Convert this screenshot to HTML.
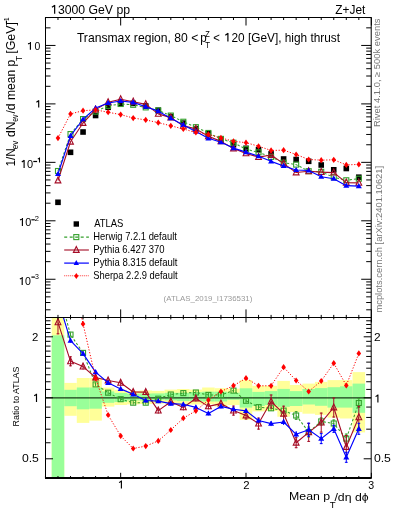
<!DOCTYPE html>
<html><head><meta charset="utf-8"><style>
html,body{margin:0;padding:0;background:#fff;width:393px;height:512px;overflow:hidden;position:relative;font-family:"Liberation Sans",sans-serif;}
svg text{font-family:"Liberation Sans",sans-serif;}
svg{will-change:transform;}
</style></head><body>
<svg width="393" height="512" viewBox="0 0 393 512" style="position:absolute;left:0;top:0">
<defs><clipPath id="cm"><rect x="45.5" y="17.5" width="325.7" height="300"/></clipPath><clipPath id="cr"><rect x="45.5" y="317.4" width="325.7" height="160.5"/></clipPath></defs>
<rect width="393" height="512" fill="#fff"/>
<g clip-path="url(#cr)">
<rect x="51.72" y="300" width="12.53" height="190" fill="#ffff99"/>
<rect x="64.25" y="382.9" width="12.53" height="32.9" fill="#ffff99"/>
<rect x="76.79" y="378" width="12.53" height="44.9" fill="#ffff99"/>
<rect x="89.32" y="378" width="12.54" height="42.6" fill="#ffff99"/>
<rect x="101.86" y="387.6" width="12.54" height="19" fill="#ffff99"/>
<rect x="114.39" y="389.8" width="12.53" height="15.2" fill="#ffff99"/>
<rect x="126.93" y="391" width="12.54" height="13.4" fill="#ffff99"/>
<rect x="139.46" y="390.5" width="12.54" height="13.5" fill="#ffff99"/>
<rect x="152" y="390.9" width="12.53" height="12.7" fill="#ffff99"/>
<rect x="164.53" y="389.6" width="12.54" height="14" fill="#ffff99"/>
<rect x="177.07" y="389" width="12.53" height="16.5" fill="#ffff99"/>
<rect x="189.6" y="389.6" width="12.54" height="14.9" fill="#ffff99"/>
<rect x="202.14" y="387.5" width="12.54" height="16.8" fill="#ffff99"/>
<rect x="214.67" y="388.2" width="12.54" height="18.2" fill="#ffff99"/>
<rect x="227.21" y="388.7" width="12.53" height="16.3" fill="#ffff99"/>
<rect x="239.74" y="380.1" width="12.54" height="39.7" fill="#ffff99"/>
<rect x="252.28" y="385.8" width="12.53" height="25.6" fill="#ffff99"/>
<rect x="264.81" y="385.8" width="12.53" height="25.2" fill="#ffff99"/>
<rect x="277.35" y="380.9" width="12.53" height="35.8" fill="#ffff99"/>
<rect x="289.88" y="385" width="12.53" height="27.1" fill="#ffff99"/>
<rect x="302.42" y="383.6" width="12.53" height="30.1" fill="#ffff99"/>
<rect x="314.95" y="381.9" width="12.53" height="33" fill="#ffff99"/>
<rect x="327.49" y="380.1" width="12.53" height="37.5" fill="#ffff99"/>
<rect x="340.02" y="380.1" width="12.53" height="38.4" fill="#ffff99"/>
<rect x="352.56" y="372.1" width="12.53" height="60.3" fill="#ffff99"/>
<rect x="51.72" y="335.3" width="12.53" height="154.7" fill="#99ff99"/>
<rect x="64.25" y="389.8" width="12.53" height="16.4" fill="#99ff99"/>
<rect x="76.79" y="387.5" width="12.53" height="21.8" fill="#99ff99"/>
<rect x="89.32" y="387.5" width="12.54" height="21.2" fill="#99ff99"/>
<rect x="101.86" y="391.4" width="12.54" height="11.4" fill="#99ff99"/>
<rect x="114.39" y="392.9" width="12.53" height="9.1" fill="#99ff99"/>
<rect x="126.93" y="393.7" width="12.54" height="6.8" fill="#99ff99"/>
<rect x="139.46" y="393.5" width="12.54" height="7" fill="#99ff99"/>
<rect x="152" y="393.4" width="12.53" height="6.4" fill="#99ff99"/>
<rect x="164.53" y="392.8" width="12.54" height="7.6" fill="#99ff99"/>
<rect x="177.07" y="392.8" width="12.53" height="8.3" fill="#99ff99"/>
<rect x="189.6" y="392.2" width="12.54" height="8.8" fill="#99ff99"/>
<rect x="202.14" y="391.7" width="12.54" height="9.8" fill="#99ff99"/>
<rect x="214.67" y="391.7" width="12.54" height="9.8" fill="#99ff99"/>
<rect x="227.21" y="392.7" width="12.53" height="7.1" fill="#99ff99"/>
<rect x="239.74" y="388.3" width="12.54" height="19.3" fill="#99ff99"/>
<rect x="252.28" y="391.9" width="12.53" height="14.1" fill="#99ff99"/>
<rect x="264.81" y="391.1" width="12.53" height="13.9" fill="#99ff99"/>
<rect x="277.35" y="388.9" width="12.53" height="17.9" fill="#99ff99"/>
<rect x="289.88" y="391.1" width="12.53" height="14.9" fill="#99ff99"/>
<rect x="302.42" y="389" width="12.53" height="15.5" fill="#99ff99"/>
<rect x="314.95" y="388.1" width="12.53" height="17.7" fill="#99ff99"/>
<rect x="327.49" y="387.2" width="12.53" height="20.4" fill="#99ff99"/>
<rect x="340.02" y="386.3" width="12.53" height="21.3" fill="#99ff99"/>
<rect x="352.56" y="383.6" width="12.53" height="29.2" fill="#99ff99"/>
<line x1="45.5" y1="397.8" x2="371.2" y2="397.8" stroke="#1a3a1a" stroke-width="1.3"/>
<polyline points="57.98,289.31 70.52,334.6 83.05,352.9 95.59,384.4 108.12,392.7 120.66,399.2 133.19,402.7 145.73,402.7 158.26,398.7 170.8,394.5 183.33,393.1 195.87,392.5 208.4,394.9 220.94,395 233.47,390.6 246.01,400.8 258.55,407.1 271.08,408.3 283.62,410.6 296.15,415.5 308.69,432 321.22,421.4 333.75,423.5 346.29,438.6 358.82,403" fill="none" stroke="#34a02c" stroke-width="1.05" stroke-dasharray="2.4,2.0" stroke-linecap="butt" stroke-linejoin="round"/>
<line x1="57.98" y1="287.31" x2="57.98" y2="291.31" stroke="#34a02c" stroke-width="1"/>
<rect x="55.48" y="286.81" width="5" height="5" fill="none" stroke="#34a02c" stroke-width="1.1"/>
<line x1="70.52" y1="332.6" x2="70.52" y2="336.6" stroke="#34a02c" stroke-width="1"/>
<rect x="68.02" y="332.1" width="5" height="5" fill="none" stroke="#34a02c" stroke-width="1.1"/>
<line x1="83.05" y1="350.9" x2="83.05" y2="354.9" stroke="#34a02c" stroke-width="1"/>
<rect x="80.55" y="350.4" width="5" height="5" fill="none" stroke="#34a02c" stroke-width="1.1"/>
<line x1="95.59" y1="382.4" x2="95.59" y2="386.4" stroke="#34a02c" stroke-width="1"/>
<rect x="93.09" y="381.9" width="5" height="5" fill="none" stroke="#34a02c" stroke-width="1.1"/>
<line x1="108.12" y1="390.7" x2="108.12" y2="394.7" stroke="#34a02c" stroke-width="1"/>
<rect x="105.62" y="390.2" width="5" height="5" fill="none" stroke="#34a02c" stroke-width="1.1"/>
<line x1="120.66" y1="397.2" x2="120.66" y2="401.2" stroke="#34a02c" stroke-width="1"/>
<rect x="118.16" y="396.7" width="5" height="5" fill="none" stroke="#34a02c" stroke-width="1.1"/>
<line x1="133.19" y1="400.7" x2="133.19" y2="404.7" stroke="#34a02c" stroke-width="1"/>
<rect x="130.69" y="400.2" width="5" height="5" fill="none" stroke="#34a02c" stroke-width="1.1"/>
<line x1="145.73" y1="400.7" x2="145.73" y2="404.7" stroke="#34a02c" stroke-width="1"/>
<rect x="143.23" y="400.2" width="5" height="5" fill="none" stroke="#34a02c" stroke-width="1.1"/>
<line x1="158.26" y1="396.7" x2="158.26" y2="400.7" stroke="#34a02c" stroke-width="1"/>
<rect x="155.76" y="396.2" width="5" height="5" fill="none" stroke="#34a02c" stroke-width="1.1"/>
<line x1="170.8" y1="392.5" x2="170.8" y2="396.5" stroke="#34a02c" stroke-width="1"/>
<rect x="168.3" y="392" width="5" height="5" fill="none" stroke="#34a02c" stroke-width="1.1"/>
<line x1="183.33" y1="391.1" x2="183.33" y2="395.1" stroke="#34a02c" stroke-width="1"/>
<rect x="180.83" y="390.6" width="5" height="5" fill="none" stroke="#34a02c" stroke-width="1.1"/>
<line x1="195.87" y1="390.5" x2="195.87" y2="394.5" stroke="#34a02c" stroke-width="1"/>
<rect x="193.37" y="390" width="5" height="5" fill="none" stroke="#34a02c" stroke-width="1.1"/>
<line x1="208.4" y1="392.9" x2="208.4" y2="396.9" stroke="#34a02c" stroke-width="1"/>
<rect x="205.9" y="392.4" width="5" height="5" fill="none" stroke="#34a02c" stroke-width="1.1"/>
<line x1="220.94" y1="393" x2="220.94" y2="397" stroke="#34a02c" stroke-width="1"/>
<rect x="218.44" y="392.5" width="5" height="5" fill="none" stroke="#34a02c" stroke-width="1.1"/>
<line x1="233.47" y1="388.6" x2="233.47" y2="392.6" stroke="#34a02c" stroke-width="1"/>
<rect x="230.97" y="388.1" width="5" height="5" fill="none" stroke="#34a02c" stroke-width="1.1"/>
<line x1="246.01" y1="398.8" x2="246.01" y2="402.8" stroke="#34a02c" stroke-width="1"/>
<rect x="243.51" y="398.3" width="5" height="5" fill="none" stroke="#34a02c" stroke-width="1.1"/>
<line x1="258.55" y1="404.6" x2="258.55" y2="409.6" stroke="#34a02c" stroke-width="1"/>
<rect x="256.05" y="404.6" width="5" height="5" fill="none" stroke="#34a02c" stroke-width="1.1"/>
<line x1="271.08" y1="405.8" x2="271.08" y2="410.8" stroke="#34a02c" stroke-width="1"/>
<rect x="268.58" y="405.8" width="5" height="5" fill="none" stroke="#34a02c" stroke-width="1.1"/>
<line x1="283.62" y1="407.6" x2="283.62" y2="413.6" stroke="#34a02c" stroke-width="1"/>
<rect x="281.12" y="408.1" width="5" height="5" fill="none" stroke="#34a02c" stroke-width="1.1"/>
<line x1="296.15" y1="411.2" x2="296.15" y2="419.8" stroke="#34a02c" stroke-width="1"/>
<line x1="294.75" y1="411.7" x2="297.55" y2="411.7" stroke="#34a02c" stroke-width="1"/>
<line x1="294.75" y1="419.3" x2="297.55" y2="419.3" stroke="#34a02c" stroke-width="1"/>
<rect x="293.65" y="413" width="5" height="5" fill="none" stroke="#34a02c" stroke-width="1.1"/>
<line x1="308.69" y1="426.5" x2="308.69" y2="437.5" stroke="#34a02c" stroke-width="1"/>
<line x1="307.29" y1="427" x2="310.08" y2="427" stroke="#34a02c" stroke-width="1"/>
<line x1="307.29" y1="437" x2="310.08" y2="437" stroke="#34a02c" stroke-width="1"/>
<rect x="306.19" y="429.5" width="5" height="5" fill="none" stroke="#34a02c" stroke-width="1.1"/>
<line x1="321.22" y1="417.4" x2="321.22" y2="425.4" stroke="#34a02c" stroke-width="1"/>
<line x1="319.82" y1="417.9" x2="322.62" y2="417.9" stroke="#34a02c" stroke-width="1"/>
<line x1="319.82" y1="424.9" x2="322.62" y2="424.9" stroke="#34a02c" stroke-width="1"/>
<rect x="318.72" y="418.9" width="5" height="5" fill="none" stroke="#34a02c" stroke-width="1.1"/>
<line x1="333.75" y1="419.5" x2="333.75" y2="427.5" stroke="#34a02c" stroke-width="1"/>
<line x1="332.36" y1="420" x2="335.15" y2="420" stroke="#34a02c" stroke-width="1"/>
<line x1="332.36" y1="427" x2="335.15" y2="427" stroke="#34a02c" stroke-width="1"/>
<rect x="331.25" y="421" width="5" height="5" fill="none" stroke="#34a02c" stroke-width="1.1"/>
<line x1="346.29" y1="433.6" x2="346.29" y2="443.6" stroke="#34a02c" stroke-width="1"/>
<line x1="344.89" y1="434.1" x2="347.69" y2="434.1" stroke="#34a02c" stroke-width="1"/>
<line x1="344.89" y1="443.1" x2="347.69" y2="443.1" stroke="#34a02c" stroke-width="1"/>
<rect x="343.79" y="436.1" width="5" height="5" fill="none" stroke="#34a02c" stroke-width="1.1"/>
<line x1="358.82" y1="398" x2="358.82" y2="408" stroke="#34a02c" stroke-width="1"/>
<line x1="357.43" y1="398.5" x2="360.22" y2="398.5" stroke="#34a02c" stroke-width="1"/>
<line x1="357.43" y1="407.5" x2="360.22" y2="407.5" stroke="#34a02c" stroke-width="1"/>
<rect x="356.32" y="400.5" width="5" height="5" fill="none" stroke="#34a02c" stroke-width="1.1"/>
<polyline points="57.98,322.3 70.52,361.3 83.05,366.6 95.59,377.5 108.12,380.5 120.66,382.8 133.19,392 145.73,392.1 158.26,410.6 170.8,401.7 183.33,407.4 195.87,398.5 208.4,406.4 220.94,403.6 233.47,410.6 246.01,415.5 258.55,423.6 271.08,401.5 283.62,413.7 296.15,442.7 308.69,432.4 321.22,422.6 333.75,407.5 346.29,447 358.82,417.3" fill="none" stroke="#a50c26" stroke-width="1.1" stroke-linecap="butt" stroke-linejoin="round"/>
<line x1="57.98" y1="310.3" x2="57.98" y2="334.3" stroke="#a50c26" stroke-width="1"/>
<line x1="56.59" y1="310.8" x2="59.38" y2="310.8" stroke="#a50c26" stroke-width="1"/>
<line x1="56.59" y1="333.8" x2="59.38" y2="333.8" stroke="#a50c26" stroke-width="1"/>
<polygon points="57.98,318.7 55.09,324.7 60.88,324.7" fill="none" stroke="#a50c26" stroke-width="1.1" stroke-linejoin="miter"/>
<line x1="70.52" y1="356.3" x2="70.52" y2="366.3" stroke="#a50c26" stroke-width="1"/>
<line x1="69.12" y1="356.8" x2="71.92" y2="356.8" stroke="#a50c26" stroke-width="1"/>
<line x1="69.12" y1="365.8" x2="71.92" y2="365.8" stroke="#a50c26" stroke-width="1"/>
<polygon points="70.52,357.7 67.62,363.7 73.42,363.7" fill="none" stroke="#a50c26" stroke-width="1.1" stroke-linejoin="miter"/>
<line x1="83.05" y1="363.6" x2="83.05" y2="369.6" stroke="#a50c26" stroke-width="1"/>
<polygon points="83.05,363 80.15,369 85.95,369" fill="none" stroke="#a50c26" stroke-width="1.1" stroke-linejoin="miter"/>
<line x1="95.59" y1="374.5" x2="95.59" y2="380.5" stroke="#a50c26" stroke-width="1"/>
<polygon points="95.59,373.9 92.69,379.9 98.49,379.9" fill="none" stroke="#a50c26" stroke-width="1.1" stroke-linejoin="miter"/>
<line x1="108.12" y1="377.5" x2="108.12" y2="383.5" stroke="#a50c26" stroke-width="1"/>
<polygon points="108.12,376.9 105.22,382.9 111.03,382.9" fill="none" stroke="#a50c26" stroke-width="1.1" stroke-linejoin="miter"/>
<line x1="120.66" y1="379.8" x2="120.66" y2="385.8" stroke="#a50c26" stroke-width="1"/>
<polygon points="120.66,379.2 117.76,385.2 123.56,385.2" fill="none" stroke="#a50c26" stroke-width="1.1" stroke-linejoin="miter"/>
<line x1="133.19" y1="389" x2="133.19" y2="395" stroke="#a50c26" stroke-width="1"/>
<polygon points="133.19,388.4 130.29,394.4 136.09,394.4" fill="none" stroke="#a50c26" stroke-width="1.1" stroke-linejoin="miter"/>
<line x1="145.73" y1="389.1" x2="145.73" y2="395.1" stroke="#a50c26" stroke-width="1"/>
<polygon points="145.73,388.5 142.83,394.5 148.63,394.5" fill="none" stroke="#a50c26" stroke-width="1.1" stroke-linejoin="miter"/>
<line x1="158.26" y1="407.6" x2="158.26" y2="413.6" stroke="#a50c26" stroke-width="1"/>
<polygon points="158.26,407 155.36,413 161.16,413" fill="none" stroke="#a50c26" stroke-width="1.1" stroke-linejoin="miter"/>
<line x1="170.8" y1="398.7" x2="170.8" y2="404.7" stroke="#a50c26" stroke-width="1"/>
<polygon points="170.8,398.1 167.9,404.1 173.7,404.1" fill="none" stroke="#a50c26" stroke-width="1.1" stroke-linejoin="miter"/>
<line x1="183.33" y1="404.4" x2="183.33" y2="410.4" stroke="#a50c26" stroke-width="1"/>
<polygon points="183.33,403.8 180.43,409.8 186.23,409.8" fill="none" stroke="#a50c26" stroke-width="1.1" stroke-linejoin="miter"/>
<line x1="195.87" y1="395.5" x2="195.87" y2="401.5" stroke="#a50c26" stroke-width="1"/>
<polygon points="195.87,394.9 192.97,400.9 198.77,400.9" fill="none" stroke="#a50c26" stroke-width="1.1" stroke-linejoin="miter"/>
<line x1="208.4" y1="403.4" x2="208.4" y2="409.4" stroke="#a50c26" stroke-width="1"/>
<polygon points="208.4,402.8 205.5,408.8 211.3,408.8" fill="none" stroke="#a50c26" stroke-width="1.1" stroke-linejoin="miter"/>
<line x1="220.94" y1="400.6" x2="220.94" y2="406.6" stroke="#a50c26" stroke-width="1"/>
<polygon points="220.94,400 218.04,406 223.84,406" fill="none" stroke="#a50c26" stroke-width="1.1" stroke-linejoin="miter"/>
<line x1="233.47" y1="405.6" x2="233.47" y2="415.6" stroke="#a50c26" stroke-width="1"/>
<line x1="232.07" y1="406.1" x2="234.87" y2="406.1" stroke="#a50c26" stroke-width="1"/>
<line x1="232.07" y1="415.1" x2="234.87" y2="415.1" stroke="#a50c26" stroke-width="1"/>
<polygon points="233.47,407 230.57,413 236.37,413" fill="none" stroke="#a50c26" stroke-width="1.1" stroke-linejoin="miter"/>
<line x1="246.01" y1="411.5" x2="246.01" y2="419.5" stroke="#a50c26" stroke-width="1"/>
<line x1="244.61" y1="412" x2="247.41" y2="412" stroke="#a50c26" stroke-width="1"/>
<line x1="244.61" y1="419" x2="247.41" y2="419" stroke="#a50c26" stroke-width="1"/>
<polygon points="246.01,411.9 243.11,417.9 248.91,417.9" fill="none" stroke="#a50c26" stroke-width="1.1" stroke-linejoin="miter"/>
<line x1="258.55" y1="417.6" x2="258.55" y2="429.6" stroke="#a50c26" stroke-width="1"/>
<line x1="257.15" y1="418.1" x2="259.94" y2="418.1" stroke="#a50c26" stroke-width="1"/>
<line x1="257.15" y1="429.1" x2="259.94" y2="429.1" stroke="#a50c26" stroke-width="1"/>
<polygon points="258.55,420 255.65,426 261.44,426" fill="none" stroke="#a50c26" stroke-width="1.1" stroke-linejoin="miter"/>
<line x1="271.08" y1="394.5" x2="271.08" y2="408.5" stroke="#a50c26" stroke-width="1"/>
<line x1="269.68" y1="395" x2="272.48" y2="395" stroke="#a50c26" stroke-width="1"/>
<line x1="269.68" y1="408" x2="272.48" y2="408" stroke="#a50c26" stroke-width="1"/>
<polygon points="271.08,397.9 268.18,403.9 273.98,403.9" fill="none" stroke="#a50c26" stroke-width="1.1" stroke-linejoin="miter"/>
<line x1="283.62" y1="405.7" x2="283.62" y2="421.7" stroke="#a50c26" stroke-width="1"/>
<line x1="282.22" y1="406.2" x2="285.01" y2="406.2" stroke="#a50c26" stroke-width="1"/>
<line x1="282.22" y1="421.2" x2="285.01" y2="421.2" stroke="#a50c26" stroke-width="1"/>
<polygon points="283.62,410.1 280.72,416.1 286.51,416.1" fill="none" stroke="#a50c26" stroke-width="1.1" stroke-linejoin="miter"/>
<line x1="296.15" y1="437.2" x2="296.15" y2="448.2" stroke="#a50c26" stroke-width="1"/>
<line x1="294.75" y1="437.7" x2="297.55" y2="437.7" stroke="#a50c26" stroke-width="1"/>
<line x1="294.75" y1="447.7" x2="297.55" y2="447.7" stroke="#a50c26" stroke-width="1"/>
<polygon points="296.15,439.1 293.25,445.1 299.05,445.1" fill="none" stroke="#a50c26" stroke-width="1.1" stroke-linejoin="miter"/>
<line x1="308.69" y1="422.9" x2="308.69" y2="441.9" stroke="#a50c26" stroke-width="1"/>
<line x1="307.29" y1="423.4" x2="310.08" y2="423.4" stroke="#a50c26" stroke-width="1"/>
<line x1="307.29" y1="441.4" x2="310.08" y2="441.4" stroke="#a50c26" stroke-width="1"/>
<polygon points="308.69,428.8 305.79,434.8 311.58,434.8" fill="none" stroke="#a50c26" stroke-width="1.1" stroke-linejoin="miter"/>
<line x1="321.22" y1="412.6" x2="321.22" y2="432.6" stroke="#a50c26" stroke-width="1"/>
<line x1="319.82" y1="413.1" x2="322.62" y2="413.1" stroke="#a50c26" stroke-width="1"/>
<line x1="319.82" y1="432.1" x2="322.62" y2="432.1" stroke="#a50c26" stroke-width="1"/>
<polygon points="321.22,419 318.32,425 324.12,425" fill="none" stroke="#a50c26" stroke-width="1.1" stroke-linejoin="miter"/>
<line x1="333.75" y1="397.5" x2="333.75" y2="417.5" stroke="#a50c26" stroke-width="1"/>
<line x1="332.36" y1="398" x2="335.15" y2="398" stroke="#a50c26" stroke-width="1"/>
<line x1="332.36" y1="417" x2="335.15" y2="417" stroke="#a50c26" stroke-width="1"/>
<polygon points="333.75,403.9 330.86,409.9 336.65,409.9" fill="none" stroke="#a50c26" stroke-width="1.1" stroke-linejoin="miter"/>
<line x1="346.29" y1="435" x2="346.29" y2="459" stroke="#a50c26" stroke-width="1"/>
<line x1="344.89" y1="435.5" x2="347.69" y2="435.5" stroke="#a50c26" stroke-width="1"/>
<line x1="344.89" y1="458.5" x2="347.69" y2="458.5" stroke="#a50c26" stroke-width="1"/>
<polygon points="346.29,443.4 343.39,449.4 349.19,449.4" fill="none" stroke="#a50c26" stroke-width="1.1" stroke-linejoin="miter"/>
<line x1="358.82" y1="405.8" x2="358.82" y2="428.8" stroke="#a50c26" stroke-width="1"/>
<line x1="357.43" y1="406.3" x2="360.22" y2="406.3" stroke="#a50c26" stroke-width="1"/>
<line x1="357.43" y1="428.3" x2="360.22" y2="428.3" stroke="#a50c26" stroke-width="1"/>
<polygon points="358.82,413.7 355.93,419.7 361.72,419.7" fill="none" stroke="#a50c26" stroke-width="1.1" stroke-linejoin="miter"/>
<polyline points="57.98,299.71 70.52,340.7 83.05,353.6 95.59,372.1 108.12,382.8 120.66,388.9 133.19,394.3 145.73,400.5 158.26,401.1 170.8,403.6 183.33,404.3 195.87,407.4 208.4,413.4 220.94,406.4 233.47,409.2 246.01,410.9 258.55,420.5 271.08,423.6 283.62,422 296.15,434.3 308.69,429.7 321.22,438.6 333.75,428.8 346.29,457.3 358.82,428.8" fill="none" stroke="#0000ff" stroke-width="1.15" stroke-linecap="butt" stroke-linejoin="round"/>
<line x1="57.98" y1="297.71" x2="57.98" y2="301.71" stroke="#0000ff" stroke-width="1"/>
<polygon points="57.98,296.59 54.98,301.79 60.98,301.79" fill="#0000ff"/>
<line x1="70.52" y1="338.7" x2="70.52" y2="342.7" stroke="#0000ff" stroke-width="1"/>
<polygon points="70.52,337.58 67.52,342.78 73.52,342.78" fill="#0000ff"/>
<line x1="83.05" y1="351.6" x2="83.05" y2="355.6" stroke="#0000ff" stroke-width="1"/>
<polygon points="83.05,350.48 80.05,355.68 86.05,355.68" fill="#0000ff"/>
<line x1="95.59" y1="370.1" x2="95.59" y2="374.1" stroke="#0000ff" stroke-width="1"/>
<polygon points="95.59,368.98 92.59,374.18 98.59,374.18" fill="#0000ff"/>
<line x1="108.12" y1="380.8" x2="108.12" y2="384.8" stroke="#0000ff" stroke-width="1"/>
<polygon points="108.12,379.68 105.12,384.88 111.12,384.88" fill="#0000ff"/>
<line x1="120.66" y1="386.9" x2="120.66" y2="390.9" stroke="#0000ff" stroke-width="1"/>
<polygon points="120.66,385.78 117.66,390.98 123.66,390.98" fill="#0000ff"/>
<line x1="133.19" y1="392.3" x2="133.19" y2="396.3" stroke="#0000ff" stroke-width="1"/>
<polygon points="133.19,391.18 130.19,396.38 136.19,396.38" fill="#0000ff"/>
<line x1="145.73" y1="398.5" x2="145.73" y2="402.5" stroke="#0000ff" stroke-width="1"/>
<polygon points="145.73,397.38 142.73,402.58 148.73,402.58" fill="#0000ff"/>
<line x1="158.26" y1="399.1" x2="158.26" y2="403.1" stroke="#0000ff" stroke-width="1"/>
<polygon points="158.26,397.98 155.26,403.18 161.26,403.18" fill="#0000ff"/>
<line x1="170.8" y1="401.6" x2="170.8" y2="405.6" stroke="#0000ff" stroke-width="1"/>
<polygon points="170.8,400.48 167.8,405.68 173.8,405.68" fill="#0000ff"/>
<line x1="183.33" y1="402.3" x2="183.33" y2="406.3" stroke="#0000ff" stroke-width="1"/>
<polygon points="183.33,401.18 180.33,406.38 186.33,406.38" fill="#0000ff"/>
<line x1="195.87" y1="405.4" x2="195.87" y2="409.4" stroke="#0000ff" stroke-width="1"/>
<polygon points="195.87,404.28 192.87,409.48 198.87,409.48" fill="#0000ff"/>
<line x1="208.4" y1="411.4" x2="208.4" y2="415.4" stroke="#0000ff" stroke-width="1"/>
<polygon points="208.4,410.28 205.4,415.48 211.4,415.48" fill="#0000ff"/>
<line x1="220.94" y1="404.4" x2="220.94" y2="408.4" stroke="#0000ff" stroke-width="1"/>
<polygon points="220.94,403.28 217.94,408.48 223.94,408.48" fill="#0000ff"/>
<line x1="233.47" y1="407.2" x2="233.47" y2="411.2" stroke="#0000ff" stroke-width="1"/>
<polygon points="233.47,406.08 230.47,411.28 236.47,411.28" fill="#0000ff"/>
<line x1="246.01" y1="408.9" x2="246.01" y2="412.9" stroke="#0000ff" stroke-width="1"/>
<polygon points="246.01,407.78 243.01,412.98 249.01,412.98" fill="#0000ff"/>
<line x1="258.55" y1="418" x2="258.55" y2="423" stroke="#0000ff" stroke-width="1"/>
<polygon points="258.55,417.38 255.55,422.58 261.55,422.58" fill="#0000ff"/>
<line x1="271.08" y1="421.1" x2="271.08" y2="426.1" stroke="#0000ff" stroke-width="1"/>
<polygon points="271.08,420.48 268.08,425.68 274.08,425.68" fill="#0000ff"/>
<line x1="283.62" y1="419" x2="283.62" y2="425" stroke="#0000ff" stroke-width="1"/>
<polygon points="283.62,418.88 280.62,424.08 286.62,424.08" fill="#0000ff"/>
<line x1="296.15" y1="431.3" x2="296.15" y2="437.3" stroke="#0000ff" stroke-width="1"/>
<polygon points="296.15,431.18 293.15,436.38 299.15,436.38" fill="#0000ff"/>
<line x1="308.69" y1="422.7" x2="308.69" y2="436.7" stroke="#0000ff" stroke-width="1"/>
<line x1="307.29" y1="423.2" x2="310.08" y2="423.2" stroke="#0000ff" stroke-width="1"/>
<line x1="307.29" y1="436.2" x2="310.08" y2="436.2" stroke="#0000ff" stroke-width="1"/>
<polygon points="308.69,426.58 305.69,431.78 311.69,431.78" fill="#0000ff"/>
<line x1="321.22" y1="433.1" x2="321.22" y2="444.1" stroke="#0000ff" stroke-width="1"/>
<line x1="319.82" y1="433.6" x2="322.62" y2="433.6" stroke="#0000ff" stroke-width="1"/>
<line x1="319.82" y1="443.6" x2="322.62" y2="443.6" stroke="#0000ff" stroke-width="1"/>
<polygon points="321.22,435.48 318.22,440.68 324.22,440.68" fill="#0000ff"/>
<line x1="333.75" y1="424.8" x2="333.75" y2="432.8" stroke="#0000ff" stroke-width="1"/>
<line x1="332.36" y1="425.3" x2="335.15" y2="425.3" stroke="#0000ff" stroke-width="1"/>
<line x1="332.36" y1="432.3" x2="335.15" y2="432.3" stroke="#0000ff" stroke-width="1"/>
<polygon points="333.75,425.68 330.75,430.88 336.75,430.88" fill="#0000ff"/>
<line x1="346.29" y1="451.8" x2="346.29" y2="462.8" stroke="#0000ff" stroke-width="1"/>
<line x1="344.89" y1="452.3" x2="347.69" y2="452.3" stroke="#0000ff" stroke-width="1"/>
<line x1="344.89" y1="462.3" x2="347.69" y2="462.3" stroke="#0000ff" stroke-width="1"/>
<polygon points="346.29,454.18 343.29,459.38 349.29,459.38" fill="#0000ff"/>
<line x1="358.82" y1="422.8" x2="358.82" y2="434.8" stroke="#0000ff" stroke-width="1"/>
<line x1="357.43" y1="423.3" x2="360.22" y2="423.3" stroke="#0000ff" stroke-width="1"/>
<line x1="357.43" y1="434.3" x2="360.22" y2="434.3" stroke="#0000ff" stroke-width="1"/>
<polygon points="358.82,425.68 355.82,430.88 361.82,430.88" fill="#0000ff"/>
<polyline points="57.98,175.27 70.52,264.7 83.05,323.9 95.59,378.2 108.12,415 120.66,435.9 133.19,448.5 145.73,446.1 158.26,440.9 170.8,430 183.33,418.2 195.87,410.8 208.4,400.1 220.94,391.5 233.47,385.7 246.01,378.2 258.55,385.8 271.08,385.8 283.62,367.2 296.15,380.5 308.69,391.5 321.22,381 333.75,363.2 346.29,385.4 358.82,353.4" fill="none" stroke="#ff0000" stroke-width="1.0" stroke-dasharray="1.2,1.7" stroke-linecap="butt" stroke-linejoin="round"/>
<line x1="57.98" y1="173.77" x2="57.98" y2="176.77" stroke="#ff0000" stroke-width="1"/>
<polygon points="57.98,172.17 60.28,175.27 57.98,178.37 55.69,175.27" fill="#ff0000"/>
<line x1="70.52" y1="263.2" x2="70.52" y2="266.2" stroke="#ff0000" stroke-width="1"/>
<polygon points="70.52,261.6 72.82,264.7 70.52,267.8 68.22,264.7" fill="#ff0000"/>
<line x1="83.05" y1="322.4" x2="83.05" y2="325.4" stroke="#ff0000" stroke-width="1"/>
<polygon points="83.05,320.8 85.35,323.9 83.05,327 80.75,323.9" fill="#ff0000"/>
<line x1="95.59" y1="376.7" x2="95.59" y2="379.7" stroke="#ff0000" stroke-width="1"/>
<polygon points="95.59,375.1 97.89,378.2 95.59,381.3 93.29,378.2" fill="#ff0000"/>
<line x1="108.12" y1="413.5" x2="108.12" y2="416.5" stroke="#ff0000" stroke-width="1"/>
<polygon points="108.12,411.9 110.42,415 108.12,418.1 105.83,415" fill="#ff0000"/>
<line x1="120.66" y1="434.4" x2="120.66" y2="437.4" stroke="#ff0000" stroke-width="1"/>
<polygon points="120.66,432.8 122.96,435.9 120.66,439 118.36,435.9" fill="#ff0000"/>
<line x1="133.19" y1="447" x2="133.19" y2="450" stroke="#ff0000" stroke-width="1"/>
<polygon points="133.19,445.4 135.5,448.5 133.19,451.6 130.89,448.5" fill="#ff0000"/>
<line x1="145.73" y1="444.6" x2="145.73" y2="447.6" stroke="#ff0000" stroke-width="1"/>
<polygon points="145.73,443 148.03,446.1 145.73,449.2 143.43,446.1" fill="#ff0000"/>
<line x1="158.26" y1="439.4" x2="158.26" y2="442.4" stroke="#ff0000" stroke-width="1"/>
<polygon points="158.26,437.8 160.56,440.9 158.26,444 155.96,440.9" fill="#ff0000"/>
<line x1="170.8" y1="428.5" x2="170.8" y2="431.5" stroke="#ff0000" stroke-width="1"/>
<polygon points="170.8,426.9 173.1,430 170.8,433.1 168.5,430" fill="#ff0000"/>
<line x1="183.33" y1="416.7" x2="183.33" y2="419.7" stroke="#ff0000" stroke-width="1"/>
<polygon points="183.33,415.1 185.63,418.2 183.33,421.3 181.03,418.2" fill="#ff0000"/>
<line x1="195.87" y1="409.3" x2="195.87" y2="412.3" stroke="#ff0000" stroke-width="1"/>
<polygon points="195.87,407.7 198.17,410.8 195.87,413.9 193.57,410.8" fill="#ff0000"/>
<line x1="208.4" y1="398.6" x2="208.4" y2="401.6" stroke="#ff0000" stroke-width="1"/>
<polygon points="208.4,397 210.7,400.1 208.4,403.2 206.1,400.1" fill="#ff0000"/>
<line x1="220.94" y1="390" x2="220.94" y2="393" stroke="#ff0000" stroke-width="1"/>
<polygon points="220.94,388.4 223.24,391.5 220.94,394.6 218.64,391.5" fill="#ff0000"/>
<line x1="233.47" y1="384.2" x2="233.47" y2="387.2" stroke="#ff0000" stroke-width="1"/>
<polygon points="233.47,382.6 235.77,385.7 233.47,388.8 231.17,385.7" fill="#ff0000"/>
<line x1="246.01" y1="376.7" x2="246.01" y2="379.7" stroke="#ff0000" stroke-width="1"/>
<polygon points="246.01,375.1 248.31,378.2 246.01,381.3 243.71,378.2" fill="#ff0000"/>
<line x1="258.55" y1="384.3" x2="258.55" y2="387.3" stroke="#ff0000" stroke-width="1"/>
<polygon points="258.55,382.7 260.85,385.8 258.55,388.9 256.25,385.8" fill="#ff0000"/>
<line x1="271.08" y1="384.3" x2="271.08" y2="387.3" stroke="#ff0000" stroke-width="1"/>
<polygon points="271.08,382.7 273.38,385.8 271.08,388.9 268.78,385.8" fill="#ff0000"/>
<line x1="283.62" y1="365.7" x2="283.62" y2="368.7" stroke="#ff0000" stroke-width="1"/>
<polygon points="283.62,364.1 285.92,367.2 283.62,370.3 281.31,367.2" fill="#ff0000"/>
<line x1="296.15" y1="379" x2="296.15" y2="382" stroke="#ff0000" stroke-width="1"/>
<polygon points="296.15,377.4 298.45,380.5 296.15,383.6 293.85,380.5" fill="#ff0000"/>
<line x1="308.69" y1="390" x2="308.69" y2="393" stroke="#ff0000" stroke-width="1"/>
<polygon points="308.69,388.4 310.99,391.5 308.69,394.6 306.38,391.5" fill="#ff0000"/>
<line x1="321.22" y1="379.5" x2="321.22" y2="382.5" stroke="#ff0000" stroke-width="1"/>
<polygon points="321.22,377.9 323.52,381 321.22,384.1 318.92,381" fill="#ff0000"/>
<line x1="333.75" y1="361.7" x2="333.75" y2="364.7" stroke="#ff0000" stroke-width="1"/>
<polygon points="333.75,360.1 336.06,363.2 333.75,366.3 331.45,363.2" fill="#ff0000"/>
<line x1="346.29" y1="383.9" x2="346.29" y2="386.9" stroke="#ff0000" stroke-width="1"/>
<polygon points="346.29,382.3 348.59,385.4 346.29,388.5 343.99,385.4" fill="#ff0000"/>
<line x1="358.82" y1="351.9" x2="358.82" y2="354.9" stroke="#ff0000" stroke-width="1"/>
<polygon points="358.82,350.3 361.12,353.4 358.82,356.5 356.52,353.4" fill="#ff0000"/>
</g>
<g clip-path="url(#cm)">
<rect x="55.19" y="199.5" width="5.6" height="5.6" fill="#000"/>
<rect x="67.72" y="149.5" width="5.6" height="5.6" fill="#000"/>
<rect x="80.25" y="129.2" width="5.6" height="5.6" fill="#000"/>
<rect x="92.79" y="112.7" width="5.6" height="5.6" fill="#000"/>
<rect x="105.33" y="104.5" width="5.6" height="5.6" fill="#000"/>
<rect x="117.86" y="100.8" width="5.6" height="5.6" fill="#000"/>
<rect x="130.39" y="100.6" width="5.6" height="5.6" fill="#000"/>
<rect x="142.93" y="103.2" width="5.6" height="5.6" fill="#000"/>
<rect x="155.46" y="107.4" width="5.6" height="5.6" fill="#000"/>
<rect x="168" y="113.7" width="5.6" height="5.6" fill="#000"/>
<rect x="180.53" y="120.3" width="5.6" height="5.6" fill="#000"/>
<rect x="193.07" y="125.9" width="5.6" height="5.6" fill="#000"/>
<rect x="205.6" y="131" width="5.6" height="5.6" fill="#000"/>
<rect x="218.14" y="136.9" width="5.6" height="5.6" fill="#000"/>
<rect x="230.67" y="142" width="5.6" height="5.6" fill="#000"/>
<rect x="243.21" y="145.5" width="5.6" height="5.6" fill="#000"/>
<rect x="255.75" y="146.9" width="5.6" height="5.6" fill="#000"/>
<rect x="268.28" y="151.1" width="5.6" height="5.6" fill="#000"/>
<rect x="280.81" y="156.2" width="5.6" height="5.6" fill="#000"/>
<rect x="293.35" y="156.7" width="5.6" height="5.6" fill="#000"/>
<rect x="305.88" y="158.5" width="5.6" height="5.6" fill="#000"/>
<rect x="318.42" y="162.2" width="5.6" height="5.6" fill="#000"/>
<rect x="330.95" y="167" width="5.6" height="5.6" fill="#000"/>
<rect x="343.49" y="165.7" width="5.6" height="5.6" fill="#000"/>
<rect x="356.02" y="174.4" width="5.6" height="5.6" fill="#000"/>
<polyline points="57.98,171 70.52,134.07 83.05,119.05 95.59,111.63 108.12,105.83 120.66,104 133.19,104.81 145.73,107.41 158.26,110.46 170.8,115.55 183.33,121.74 195.87,127.17 208.4,132.96 220.94,138.89 233.47,142.72 246.01,149.17 258.55,152.38 271.08,156.93 283.62,162.69 296.15,164.61 308.69,171.17 321.22,171.81 333.75,177.21 346.29,180.27 358.82,178.7" fill="none" stroke="#34a02c" stroke-width="1.05" stroke-dasharray="2.4,2.0" stroke-linecap="butt" stroke-linejoin="round"/>
<rect x="55.48" y="168.5" width="5" height="5" fill="none" stroke="#34a02c" stroke-width="1.1"/>
<rect x="68.02" y="131.57" width="5" height="5" fill="none" stroke="#34a02c" stroke-width="1.1"/>
<rect x="80.55" y="116.55" width="5" height="5" fill="none" stroke="#34a02c" stroke-width="1.1"/>
<rect x="93.09" y="109.13" width="5" height="5" fill="none" stroke="#34a02c" stroke-width="1.1"/>
<rect x="105.62" y="103.33" width="5" height="5" fill="none" stroke="#34a02c" stroke-width="1.1"/>
<rect x="118.16" y="101.5" width="5" height="5" fill="none" stroke="#34a02c" stroke-width="1.1"/>
<rect x="130.69" y="102.31" width="5" height="5" fill="none" stroke="#34a02c" stroke-width="1.1"/>
<rect x="143.23" y="104.91" width="5" height="5" fill="none" stroke="#34a02c" stroke-width="1.1"/>
<rect x="155.76" y="107.96" width="5" height="5" fill="none" stroke="#34a02c" stroke-width="1.1"/>
<rect x="168.3" y="113.05" width="5" height="5" fill="none" stroke="#34a02c" stroke-width="1.1"/>
<rect x="180.83" y="119.24" width="5" height="5" fill="none" stroke="#34a02c" stroke-width="1.1"/>
<rect x="193.37" y="124.67" width="5" height="5" fill="none" stroke="#34a02c" stroke-width="1.1"/>
<rect x="205.9" y="130.46" width="5" height="5" fill="none" stroke="#34a02c" stroke-width="1.1"/>
<rect x="218.44" y="136.39" width="5" height="5" fill="none" stroke="#34a02c" stroke-width="1.1"/>
<rect x="230.97" y="140.22" width="5" height="5" fill="none" stroke="#34a02c" stroke-width="1.1"/>
<rect x="243.51" y="146.67" width="5" height="5" fill="none" stroke="#34a02c" stroke-width="1.1"/>
<rect x="256.05" y="149.88" width="5" height="5" fill="none" stroke="#34a02c" stroke-width="1.1"/>
<rect x="268.58" y="154.43" width="5" height="5" fill="none" stroke="#34a02c" stroke-width="1.1"/>
<rect x="281.12" y="160.19" width="5" height="5" fill="none" stroke="#34a02c" stroke-width="1.1"/>
<rect x="293.65" y="162.11" width="5" height="5" fill="none" stroke="#34a02c" stroke-width="1.1"/>
<rect x="306.19" y="168.67" width="5" height="5" fill="none" stroke="#34a02c" stroke-width="1.1"/>
<rect x="318.72" y="169.31" width="5" height="5" fill="none" stroke="#34a02c" stroke-width="1.1"/>
<rect x="331.25" y="174.71" width="5" height="5" fill="none" stroke="#34a02c" stroke-width="1.1"/>
<rect x="343.79" y="177.77" width="5" height="5" fill="none" stroke="#34a02c" stroke-width="1.1"/>
<rect x="356.32" y="176.2" width="5" height="5" fill="none" stroke="#34a02c" stroke-width="1.1"/>
<polyline points="57.98,180.52 70.52,141.77 83.05,123 95.59,109.64 108.12,102.31 120.66,99.27 133.19,101.73 145.73,104.36 158.26,113.89 170.8,117.63 183.33,125.87 195.87,128.9 208.4,136.28 220.94,141.37 233.47,148.49 246.01,153.41 258.55,157.14 271.08,154.97 283.62,163.59 296.15,172.45 308.69,171.28 321.22,172.15 333.75,172.6 346.29,182.69 358.82,182.83" fill="none" stroke="#a50c26" stroke-width="1.1" stroke-linecap="butt" stroke-linejoin="round"/>
<polygon points="57.98,176.92 55.09,182.92 60.88,182.92" fill="none" stroke="#a50c26" stroke-width="1.1" stroke-linejoin="miter"/>
<polygon points="70.52,138.17 67.62,144.17 73.42,144.17" fill="none" stroke="#a50c26" stroke-width="1.1" stroke-linejoin="miter"/>
<polygon points="83.05,119.4 80.15,125.4 85.95,125.4" fill="none" stroke="#a50c26" stroke-width="1.1" stroke-linejoin="miter"/>
<polygon points="95.59,106.04 92.69,112.04 98.49,112.04" fill="none" stroke="#a50c26" stroke-width="1.1" stroke-linejoin="miter"/>
<polygon points="108.12,98.71 105.22,104.71 111.03,104.71" fill="none" stroke="#a50c26" stroke-width="1.1" stroke-linejoin="miter"/>
<polygon points="120.66,95.67 117.76,101.67 123.56,101.67" fill="none" stroke="#a50c26" stroke-width="1.1" stroke-linejoin="miter"/>
<polygon points="133.19,98.13 130.29,104.13 136.09,104.13" fill="none" stroke="#a50c26" stroke-width="1.1" stroke-linejoin="miter"/>
<polygon points="145.73,100.76 142.83,106.76 148.63,106.76" fill="none" stroke="#a50c26" stroke-width="1.1" stroke-linejoin="miter"/>
<polygon points="158.26,110.29 155.36,116.29 161.16,116.29" fill="none" stroke="#a50c26" stroke-width="1.1" stroke-linejoin="miter"/>
<polygon points="170.8,114.03 167.9,120.03 173.7,120.03" fill="none" stroke="#a50c26" stroke-width="1.1" stroke-linejoin="miter"/>
<polygon points="183.33,122.27 180.43,128.27 186.23,128.27" fill="none" stroke="#a50c26" stroke-width="1.1" stroke-linejoin="miter"/>
<polygon points="195.87,125.3 192.97,131.3 198.77,131.3" fill="none" stroke="#a50c26" stroke-width="1.1" stroke-linejoin="miter"/>
<polygon points="208.4,132.68 205.5,138.68 211.3,138.68" fill="none" stroke="#a50c26" stroke-width="1.1" stroke-linejoin="miter"/>
<polygon points="220.94,137.77 218.04,143.77 223.84,143.77" fill="none" stroke="#a50c26" stroke-width="1.1" stroke-linejoin="miter"/>
<polygon points="233.47,144.89 230.57,150.89 236.37,150.89" fill="none" stroke="#a50c26" stroke-width="1.1" stroke-linejoin="miter"/>
<polygon points="246.01,149.81 243.11,155.81 248.91,155.81" fill="none" stroke="#a50c26" stroke-width="1.1" stroke-linejoin="miter"/>
<polygon points="258.55,153.54 255.65,159.54 261.44,159.54" fill="none" stroke="#a50c26" stroke-width="1.1" stroke-linejoin="miter"/>
<polygon points="271.08,151.37 268.18,157.37 273.98,157.37" fill="none" stroke="#a50c26" stroke-width="1.1" stroke-linejoin="miter"/>
<polygon points="283.62,159.99 280.72,165.99 286.51,165.99" fill="none" stroke="#a50c26" stroke-width="1.1" stroke-linejoin="miter"/>
<polygon points="296.15,168.85 293.25,174.85 299.05,174.85" fill="none" stroke="#a50c26" stroke-width="1.1" stroke-linejoin="miter"/>
<polygon points="308.69,167.68 305.79,173.68 311.58,173.68" fill="none" stroke="#a50c26" stroke-width="1.1" stroke-linejoin="miter"/>
<polygon points="321.22,168.55 318.32,174.55 324.12,174.55" fill="none" stroke="#a50c26" stroke-width="1.1" stroke-linejoin="miter"/>
<polygon points="333.75,169 330.86,175 336.65,175" fill="none" stroke="#a50c26" stroke-width="1.1" stroke-linejoin="miter"/>
<polygon points="346.29,179.09 343.39,185.09 349.19,185.09" fill="none" stroke="#a50c26" stroke-width="1.1" stroke-linejoin="miter"/>
<polygon points="358.82,179.23 355.93,185.23 361.72,185.23" fill="none" stroke="#a50c26" stroke-width="1.1" stroke-linejoin="miter"/>
<polyline points="57.98,174 70.52,135.83 83.05,119.25 95.59,108.09 108.12,102.97 120.66,101.03 133.19,102.39 145.73,106.78 158.26,111.15 170.8,118.17 183.33,124.98 195.87,131.47 208.4,138.3 220.94,142.18 233.47,148.09 246.01,152.08 258.55,156.25 271.08,161.34 283.62,165.98 296.15,170.03 308.69,170.5 321.22,176.77 333.75,178.74 346.29,185.67 358.82,186.14" fill="none" stroke="#0000ff" stroke-width="1.15" stroke-linecap="butt" stroke-linejoin="round"/>
<polygon points="57.98,170.88 54.98,176.08 60.98,176.08" fill="#0000ff"/>
<polygon points="70.52,132.71 67.52,137.91 73.52,137.91" fill="#0000ff"/>
<polygon points="83.05,116.13 80.05,121.33 86.05,121.33" fill="#0000ff"/>
<polygon points="95.59,104.97 92.59,110.17 98.59,110.17" fill="#0000ff"/>
<polygon points="108.12,99.85 105.12,105.05 111.12,105.05" fill="#0000ff"/>
<polygon points="120.66,97.91 117.66,103.11 123.66,103.11" fill="#0000ff"/>
<polygon points="133.19,99.27 130.19,104.47 136.19,104.47" fill="#0000ff"/>
<polygon points="145.73,103.66 142.73,108.86 148.73,108.86" fill="#0000ff"/>
<polygon points="158.26,108.03 155.26,113.23 161.26,113.23" fill="#0000ff"/>
<polygon points="170.8,115.05 167.8,120.25 173.8,120.25" fill="#0000ff"/>
<polygon points="183.33,121.86 180.33,127.06 186.33,127.06" fill="#0000ff"/>
<polygon points="195.87,128.35 192.87,133.55 198.87,133.55" fill="#0000ff"/>
<polygon points="208.4,135.18 205.4,140.38 211.4,140.38" fill="#0000ff"/>
<polygon points="220.94,139.06 217.94,144.26 223.94,144.26" fill="#0000ff"/>
<polygon points="233.47,144.97 230.47,150.17 236.47,150.17" fill="#0000ff"/>
<polygon points="246.01,148.96 243.01,154.16 249.01,154.16" fill="#0000ff"/>
<polygon points="258.55,153.13 255.55,158.33 261.55,158.33" fill="#0000ff"/>
<polygon points="271.08,158.22 268.08,163.42 274.08,163.42" fill="#0000ff"/>
<polygon points="283.62,162.86 280.62,168.06 286.62,168.06" fill="#0000ff"/>
<polygon points="296.15,166.91 293.15,172.11 299.15,172.11" fill="#0000ff"/>
<polygon points="308.69,167.38 305.69,172.58 311.69,172.58" fill="#0000ff"/>
<polygon points="321.22,173.65 318.22,178.85 324.22,178.85" fill="#0000ff"/>
<polygon points="333.75,175.62 330.75,180.82 336.75,180.82" fill="#0000ff"/>
<polygon points="346.29,182.55 343.29,187.75 349.29,187.75" fill="#0000ff"/>
<polygon points="358.82,183.02 355.82,188.22 361.82,188.22" fill="#0000ff"/>
<polyline points="57.98,138.1 70.52,113.9 83.05,110.68 95.59,109.85 108.12,112.26 120.66,114.59 133.19,118.03 145.73,119.93 158.26,122.63 170.8,125.79 183.33,128.99 195.87,132.45 208.4,134.46 220.94,137.88 233.47,141.31 246.01,142.65 258.55,146.24 271.08,150.44 283.62,150.17 296.15,154.51 308.69,159.48 321.22,160.15 333.75,159.82 346.29,164.92 358.82,164.39" fill="none" stroke="#ff0000" stroke-width="1.0" stroke-dasharray="1.2,1.7" stroke-linecap="butt" stroke-linejoin="round"/>
<polygon points="57.98,135 60.28,138.1 57.98,141.2 55.69,138.1" fill="#ff0000"/>
<polygon points="70.52,110.8 72.82,113.9 70.52,117 68.22,113.9" fill="#ff0000"/>
<polygon points="83.05,107.58 85.35,110.68 83.05,113.78 80.75,110.68" fill="#ff0000"/>
<polygon points="95.59,106.75 97.89,109.85 95.59,112.95 93.29,109.85" fill="#ff0000"/>
<polygon points="108.12,109.16 110.42,112.26 108.12,115.36 105.83,112.26" fill="#ff0000"/>
<polygon points="120.66,111.49 122.96,114.59 120.66,117.69 118.36,114.59" fill="#ff0000"/>
<polygon points="133.19,114.93 135.5,118.03 133.19,121.13 130.89,118.03" fill="#ff0000"/>
<polygon points="145.73,116.83 148.03,119.93 145.73,123.03 143.43,119.93" fill="#ff0000"/>
<polygon points="158.26,119.53 160.56,122.63 158.26,125.73 155.96,122.63" fill="#ff0000"/>
<polygon points="170.8,122.69 173.1,125.79 170.8,128.89 168.5,125.79" fill="#ff0000"/>
<polygon points="183.33,125.89 185.63,128.99 183.33,132.09 181.03,128.99" fill="#ff0000"/>
<polygon points="195.87,129.35 198.17,132.45 195.87,135.55 193.57,132.45" fill="#ff0000"/>
<polygon points="208.4,131.36 210.7,134.46 208.4,137.56 206.1,134.46" fill="#ff0000"/>
<polygon points="220.94,134.78 223.24,137.88 220.94,140.98 218.64,137.88" fill="#ff0000"/>
<polygon points="233.47,138.21 235.77,141.31 233.47,144.41 231.17,141.31" fill="#ff0000"/>
<polygon points="246.01,139.55 248.31,142.65 246.01,145.75 243.71,142.65" fill="#ff0000"/>
<polygon points="258.55,143.14 260.85,146.24 258.55,149.34 256.25,146.24" fill="#ff0000"/>
<polygon points="271.08,147.34 273.38,150.44 271.08,153.54 268.78,150.44" fill="#ff0000"/>
<polygon points="283.62,147.07 285.92,150.17 283.62,153.27 281.31,150.17" fill="#ff0000"/>
<polygon points="296.15,151.41 298.45,154.51 296.15,157.61 293.85,154.51" fill="#ff0000"/>
<polygon points="308.69,156.38 310.99,159.48 308.69,162.58 306.38,159.48" fill="#ff0000"/>
<polygon points="321.22,157.05 323.52,160.15 321.22,163.25 318.92,160.15" fill="#ff0000"/>
<polygon points="333.75,156.72 336.06,159.82 333.75,162.92 331.45,159.82" fill="#ff0000"/>
<polygon points="346.29,161.82 348.59,164.92 346.29,168.02 343.99,164.92" fill="#ff0000"/>
<polygon points="358.82,161.29 361.12,164.39 358.82,167.49 356.52,164.39" fill="#ff0000"/>
</g>
<g stroke="#000" fill="none">
<rect x="45.5" y="17.5" width="325.7" height="300" stroke-width="1"/>
<line x1="45.5" y1="317.5" x2="371.2" y2="317.5" stroke-width="1"/>
<line x1="45.5" y1="477" x2="45.5" y2="317.5" stroke-width="1"/>
<line x1="371.2" y1="478" x2="371.2" y2="317.5" stroke-width="1"/>
<line x1="45" y1="478" x2="371.7" y2="478" stroke-width="2"/>
<line x1="45.45" y1="17.5" x2="45.45" y2="20" stroke-width="1"/>
<line x1="45.45" y1="317.4" x2="45.45" y2="314.9" stroke-width="1"/>
<line x1="45.45" y1="317.4" x2="45.45" y2="319.4" stroke-width="1"/>
<line x1="45.45" y1="478" x2="45.45" y2="476" stroke-width="1"/>
<line x1="57.98" y1="17.5" x2="57.98" y2="20" stroke-width="1"/>
<line x1="57.98" y1="317.4" x2="57.98" y2="314.9" stroke-width="1"/>
<line x1="57.98" y1="317.4" x2="57.98" y2="319.4" stroke-width="1"/>
<line x1="57.98" y1="478" x2="57.98" y2="476" stroke-width="1"/>
<line x1="70.52" y1="17.5" x2="70.52" y2="20" stroke-width="1"/>
<line x1="70.52" y1="317.4" x2="70.52" y2="314.9" stroke-width="1"/>
<line x1="70.52" y1="317.4" x2="70.52" y2="319.4" stroke-width="1"/>
<line x1="70.52" y1="478" x2="70.52" y2="476" stroke-width="1"/>
<line x1="83.05" y1="17.5" x2="83.05" y2="20" stroke-width="1"/>
<line x1="83.05" y1="317.4" x2="83.05" y2="314.9" stroke-width="1"/>
<line x1="83.05" y1="317.4" x2="83.05" y2="319.4" stroke-width="1"/>
<line x1="83.05" y1="478" x2="83.05" y2="476" stroke-width="1"/>
<line x1="95.59" y1="17.5" x2="95.59" y2="20" stroke-width="1"/>
<line x1="95.59" y1="317.4" x2="95.59" y2="314.9" stroke-width="1"/>
<line x1="95.59" y1="317.4" x2="95.59" y2="319.4" stroke-width="1"/>
<line x1="95.59" y1="478" x2="95.59" y2="476" stroke-width="1"/>
<line x1="108.12" y1="17.5" x2="108.12" y2="20" stroke-width="1"/>
<line x1="108.12" y1="317.4" x2="108.12" y2="314.9" stroke-width="1"/>
<line x1="108.12" y1="317.4" x2="108.12" y2="319.4" stroke-width="1"/>
<line x1="108.12" y1="478" x2="108.12" y2="476" stroke-width="1"/>
<line x1="120.66" y1="17.5" x2="120.66" y2="25.5" stroke-width="1"/>
<line x1="120.66" y1="317.4" x2="120.66" y2="309.4" stroke-width="1"/>
<line x1="120.66" y1="317.4" x2="120.66" y2="322.5" stroke-width="1"/>
<line x1="120.66" y1="478" x2="120.66" y2="472.8" stroke-width="1"/>
<line x1="133.19" y1="17.5" x2="133.19" y2="20" stroke-width="1"/>
<line x1="133.19" y1="317.4" x2="133.19" y2="314.9" stroke-width="1"/>
<line x1="133.19" y1="317.4" x2="133.19" y2="319.4" stroke-width="1"/>
<line x1="133.19" y1="478" x2="133.19" y2="476" stroke-width="1"/>
<line x1="145.73" y1="17.5" x2="145.73" y2="20" stroke-width="1"/>
<line x1="145.73" y1="317.4" x2="145.73" y2="314.9" stroke-width="1"/>
<line x1="145.73" y1="317.4" x2="145.73" y2="319.4" stroke-width="1"/>
<line x1="145.73" y1="478" x2="145.73" y2="476" stroke-width="1"/>
<line x1="158.26" y1="17.5" x2="158.26" y2="20" stroke-width="1"/>
<line x1="158.26" y1="317.4" x2="158.26" y2="314.9" stroke-width="1"/>
<line x1="158.26" y1="317.4" x2="158.26" y2="319.4" stroke-width="1"/>
<line x1="158.26" y1="478" x2="158.26" y2="476" stroke-width="1"/>
<line x1="170.8" y1="17.5" x2="170.8" y2="20" stroke-width="1"/>
<line x1="170.8" y1="317.4" x2="170.8" y2="314.9" stroke-width="1"/>
<line x1="170.8" y1="317.4" x2="170.8" y2="319.4" stroke-width="1"/>
<line x1="170.8" y1="478" x2="170.8" y2="476" stroke-width="1"/>
<line x1="183.33" y1="17.5" x2="183.33" y2="20" stroke-width="1"/>
<line x1="183.33" y1="317.4" x2="183.33" y2="314.9" stroke-width="1"/>
<line x1="183.33" y1="317.4" x2="183.33" y2="319.4" stroke-width="1"/>
<line x1="183.33" y1="478" x2="183.33" y2="476" stroke-width="1"/>
<line x1="195.87" y1="17.5" x2="195.87" y2="20" stroke-width="1"/>
<line x1="195.87" y1="317.4" x2="195.87" y2="314.9" stroke-width="1"/>
<line x1="195.87" y1="317.4" x2="195.87" y2="319.4" stroke-width="1"/>
<line x1="195.87" y1="478" x2="195.87" y2="476" stroke-width="1"/>
<line x1="208.4" y1="17.5" x2="208.4" y2="20" stroke-width="1"/>
<line x1="208.4" y1="317.4" x2="208.4" y2="314.9" stroke-width="1"/>
<line x1="208.4" y1="317.4" x2="208.4" y2="319.4" stroke-width="1"/>
<line x1="208.4" y1="478" x2="208.4" y2="476" stroke-width="1"/>
<line x1="220.94" y1="17.5" x2="220.94" y2="20" stroke-width="1"/>
<line x1="220.94" y1="317.4" x2="220.94" y2="314.9" stroke-width="1"/>
<line x1="220.94" y1="317.4" x2="220.94" y2="319.4" stroke-width="1"/>
<line x1="220.94" y1="478" x2="220.94" y2="476" stroke-width="1"/>
<line x1="233.47" y1="17.5" x2="233.47" y2="20" stroke-width="1"/>
<line x1="233.47" y1="317.4" x2="233.47" y2="314.9" stroke-width="1"/>
<line x1="233.47" y1="317.4" x2="233.47" y2="319.4" stroke-width="1"/>
<line x1="233.47" y1="478" x2="233.47" y2="476" stroke-width="1"/>
<line x1="246.01" y1="17.5" x2="246.01" y2="25.5" stroke-width="1"/>
<line x1="246.01" y1="317.4" x2="246.01" y2="309.4" stroke-width="1"/>
<line x1="246.01" y1="317.4" x2="246.01" y2="322.5" stroke-width="1"/>
<line x1="246.01" y1="478" x2="246.01" y2="472.8" stroke-width="1"/>
<line x1="258.55" y1="17.5" x2="258.55" y2="20" stroke-width="1"/>
<line x1="258.55" y1="317.4" x2="258.55" y2="314.9" stroke-width="1"/>
<line x1="258.55" y1="317.4" x2="258.55" y2="319.4" stroke-width="1"/>
<line x1="258.55" y1="478" x2="258.55" y2="476" stroke-width="1"/>
<line x1="271.08" y1="17.5" x2="271.08" y2="20" stroke-width="1"/>
<line x1="271.08" y1="317.4" x2="271.08" y2="314.9" stroke-width="1"/>
<line x1="271.08" y1="317.4" x2="271.08" y2="319.4" stroke-width="1"/>
<line x1="271.08" y1="478" x2="271.08" y2="476" stroke-width="1"/>
<line x1="283.62" y1="17.5" x2="283.62" y2="20" stroke-width="1"/>
<line x1="283.62" y1="317.4" x2="283.62" y2="314.9" stroke-width="1"/>
<line x1="283.62" y1="317.4" x2="283.62" y2="319.4" stroke-width="1"/>
<line x1="283.62" y1="478" x2="283.62" y2="476" stroke-width="1"/>
<line x1="296.15" y1="17.5" x2="296.15" y2="20" stroke-width="1"/>
<line x1="296.15" y1="317.4" x2="296.15" y2="314.9" stroke-width="1"/>
<line x1="296.15" y1="317.4" x2="296.15" y2="319.4" stroke-width="1"/>
<line x1="296.15" y1="478" x2="296.15" y2="476" stroke-width="1"/>
<line x1="308.69" y1="17.5" x2="308.69" y2="20" stroke-width="1"/>
<line x1="308.69" y1="317.4" x2="308.69" y2="314.9" stroke-width="1"/>
<line x1="308.69" y1="317.4" x2="308.69" y2="319.4" stroke-width="1"/>
<line x1="308.69" y1="478" x2="308.69" y2="476" stroke-width="1"/>
<line x1="321.22" y1="17.5" x2="321.22" y2="20" stroke-width="1"/>
<line x1="321.22" y1="317.4" x2="321.22" y2="314.9" stroke-width="1"/>
<line x1="321.22" y1="317.4" x2="321.22" y2="319.4" stroke-width="1"/>
<line x1="321.22" y1="478" x2="321.22" y2="476" stroke-width="1"/>
<line x1="333.75" y1="17.5" x2="333.75" y2="20" stroke-width="1"/>
<line x1="333.75" y1="317.4" x2="333.75" y2="314.9" stroke-width="1"/>
<line x1="333.75" y1="317.4" x2="333.75" y2="319.4" stroke-width="1"/>
<line x1="333.75" y1="478" x2="333.75" y2="476" stroke-width="1"/>
<line x1="346.29" y1="17.5" x2="346.29" y2="20" stroke-width="1"/>
<line x1="346.29" y1="317.4" x2="346.29" y2="314.9" stroke-width="1"/>
<line x1="346.29" y1="317.4" x2="346.29" y2="319.4" stroke-width="1"/>
<line x1="346.29" y1="478" x2="346.29" y2="476" stroke-width="1"/>
<line x1="358.82" y1="17.5" x2="358.82" y2="20" stroke-width="1"/>
<line x1="358.82" y1="317.4" x2="358.82" y2="314.9" stroke-width="1"/>
<line x1="358.82" y1="317.4" x2="358.82" y2="319.4" stroke-width="1"/>
<line x1="358.82" y1="478" x2="358.82" y2="476" stroke-width="1"/>
<line x1="371.36" y1="17.5" x2="371.36" y2="25.5" stroke-width="1"/>
<line x1="371.36" y1="317.4" x2="371.36" y2="309.4" stroke-width="1"/>
<line x1="371.36" y1="317.4" x2="371.36" y2="322.5" stroke-width="1"/>
<line x1="371.36" y1="478" x2="371.36" y2="472.8" stroke-width="1"/>
<line x1="45.5" y1="309.81" x2="50.5" y2="309.81" stroke-width="1"/>
<line x1="371.2" y1="309.81" x2="366.2" y2="309.81" stroke-width="1"/>
<line x1="45.5" y1="302.51" x2="50.5" y2="302.51" stroke-width="1"/>
<line x1="371.2" y1="302.51" x2="366.2" y2="302.51" stroke-width="1"/>
<line x1="45.5" y1="296.85" x2="50.5" y2="296.85" stroke-width="1"/>
<line x1="371.2" y1="296.85" x2="366.2" y2="296.85" stroke-width="1"/>
<line x1="45.5" y1="292.22" x2="50.5" y2="292.22" stroke-width="1"/>
<line x1="371.2" y1="292.22" x2="366.2" y2="292.22" stroke-width="1"/>
<line x1="45.5" y1="288.3" x2="50.5" y2="288.3" stroke-width="1"/>
<line x1="371.2" y1="288.3" x2="366.2" y2="288.3" stroke-width="1"/>
<line x1="45.5" y1="284.91" x2="50.5" y2="284.91" stroke-width="1"/>
<line x1="371.2" y1="284.91" x2="366.2" y2="284.91" stroke-width="1"/>
<line x1="45.5" y1="281.92" x2="50.5" y2="281.92" stroke-width="1"/>
<line x1="371.2" y1="281.92" x2="366.2" y2="281.92" stroke-width="1"/>
<line x1="45.5" y1="279.25" x2="55.5" y2="279.25" stroke-width="1"/>
<line x1="371.2" y1="279.25" x2="361.2" y2="279.25" stroke-width="1"/>
<line x1="45.5" y1="261.65" x2="50.5" y2="261.65" stroke-width="1"/>
<line x1="371.2" y1="261.65" x2="366.2" y2="261.65" stroke-width="1"/>
<line x1="45.5" y1="251.36" x2="50.5" y2="251.36" stroke-width="1"/>
<line x1="371.2" y1="251.36" x2="366.2" y2="251.36" stroke-width="1"/>
<line x1="45.5" y1="244.06" x2="50.5" y2="244.06" stroke-width="1"/>
<line x1="371.2" y1="244.06" x2="366.2" y2="244.06" stroke-width="1"/>
<line x1="45.5" y1="238.4" x2="50.5" y2="238.4" stroke-width="1"/>
<line x1="371.2" y1="238.4" x2="366.2" y2="238.4" stroke-width="1"/>
<line x1="45.5" y1="233.77" x2="50.5" y2="233.77" stroke-width="1"/>
<line x1="371.2" y1="233.77" x2="366.2" y2="233.77" stroke-width="1"/>
<line x1="45.5" y1="229.85" x2="50.5" y2="229.85" stroke-width="1"/>
<line x1="371.2" y1="229.85" x2="366.2" y2="229.85" stroke-width="1"/>
<line x1="45.5" y1="226.46" x2="50.5" y2="226.46" stroke-width="1"/>
<line x1="371.2" y1="226.46" x2="366.2" y2="226.46" stroke-width="1"/>
<line x1="45.5" y1="223.47" x2="50.5" y2="223.47" stroke-width="1"/>
<line x1="371.2" y1="223.47" x2="366.2" y2="223.47" stroke-width="1"/>
<line x1="45.5" y1="220.8" x2="55.5" y2="220.8" stroke-width="1"/>
<line x1="371.2" y1="220.8" x2="361.2" y2="220.8" stroke-width="1"/>
<line x1="45.5" y1="203.2" x2="50.5" y2="203.2" stroke-width="1"/>
<line x1="371.2" y1="203.2" x2="366.2" y2="203.2" stroke-width="1"/>
<line x1="45.5" y1="192.91" x2="50.5" y2="192.91" stroke-width="1"/>
<line x1="371.2" y1="192.91" x2="366.2" y2="192.91" stroke-width="1"/>
<line x1="45.5" y1="185.61" x2="50.5" y2="185.61" stroke-width="1"/>
<line x1="371.2" y1="185.61" x2="366.2" y2="185.61" stroke-width="1"/>
<line x1="45.5" y1="179.95" x2="50.5" y2="179.95" stroke-width="1"/>
<line x1="371.2" y1="179.95" x2="366.2" y2="179.95" stroke-width="1"/>
<line x1="45.5" y1="175.32" x2="50.5" y2="175.32" stroke-width="1"/>
<line x1="371.2" y1="175.32" x2="366.2" y2="175.32" stroke-width="1"/>
<line x1="45.5" y1="171.4" x2="50.5" y2="171.4" stroke-width="1"/>
<line x1="371.2" y1="171.4" x2="366.2" y2="171.4" stroke-width="1"/>
<line x1="45.5" y1="168.01" x2="50.5" y2="168.01" stroke-width="1"/>
<line x1="371.2" y1="168.01" x2="366.2" y2="168.01" stroke-width="1"/>
<line x1="45.5" y1="165.02" x2="50.5" y2="165.02" stroke-width="1"/>
<line x1="371.2" y1="165.02" x2="366.2" y2="165.02" stroke-width="1"/>
<line x1="45.5" y1="162.35" x2="55.5" y2="162.35" stroke-width="1"/>
<line x1="371.2" y1="162.35" x2="361.2" y2="162.35" stroke-width="1"/>
<line x1="45.5" y1="144.75" x2="50.5" y2="144.75" stroke-width="1"/>
<line x1="371.2" y1="144.75" x2="366.2" y2="144.75" stroke-width="1"/>
<line x1="45.5" y1="134.46" x2="50.5" y2="134.46" stroke-width="1"/>
<line x1="371.2" y1="134.46" x2="366.2" y2="134.46" stroke-width="1"/>
<line x1="45.5" y1="127.16" x2="50.5" y2="127.16" stroke-width="1"/>
<line x1="371.2" y1="127.16" x2="366.2" y2="127.16" stroke-width="1"/>
<line x1="45.5" y1="121.5" x2="50.5" y2="121.5" stroke-width="1"/>
<line x1="371.2" y1="121.5" x2="366.2" y2="121.5" stroke-width="1"/>
<line x1="45.5" y1="116.87" x2="50.5" y2="116.87" stroke-width="1"/>
<line x1="371.2" y1="116.87" x2="366.2" y2="116.87" stroke-width="1"/>
<line x1="45.5" y1="112.95" x2="50.5" y2="112.95" stroke-width="1"/>
<line x1="371.2" y1="112.95" x2="366.2" y2="112.95" stroke-width="1"/>
<line x1="45.5" y1="109.56" x2="50.5" y2="109.56" stroke-width="1"/>
<line x1="371.2" y1="109.56" x2="366.2" y2="109.56" stroke-width="1"/>
<line x1="45.5" y1="106.57" x2="50.5" y2="106.57" stroke-width="1"/>
<line x1="371.2" y1="106.57" x2="366.2" y2="106.57" stroke-width="1"/>
<line x1="45.5" y1="103.9" x2="55.5" y2="103.9" stroke-width="1"/>
<line x1="371.2" y1="103.9" x2="361.2" y2="103.9" stroke-width="1"/>
<line x1="45.5" y1="86.3" x2="50.5" y2="86.3" stroke-width="1"/>
<line x1="371.2" y1="86.3" x2="366.2" y2="86.3" stroke-width="1"/>
<line x1="45.5" y1="76.01" x2="50.5" y2="76.01" stroke-width="1"/>
<line x1="371.2" y1="76.01" x2="366.2" y2="76.01" stroke-width="1"/>
<line x1="45.5" y1="68.71" x2="50.5" y2="68.71" stroke-width="1"/>
<line x1="371.2" y1="68.71" x2="366.2" y2="68.71" stroke-width="1"/>
<line x1="45.5" y1="63.05" x2="50.5" y2="63.05" stroke-width="1"/>
<line x1="371.2" y1="63.05" x2="366.2" y2="63.05" stroke-width="1"/>
<line x1="45.5" y1="58.42" x2="50.5" y2="58.42" stroke-width="1"/>
<line x1="371.2" y1="58.42" x2="366.2" y2="58.42" stroke-width="1"/>
<line x1="45.5" y1="54.5" x2="50.5" y2="54.5" stroke-width="1"/>
<line x1="371.2" y1="54.5" x2="366.2" y2="54.5" stroke-width="1"/>
<line x1="45.5" y1="51.11" x2="50.5" y2="51.11" stroke-width="1"/>
<line x1="371.2" y1="51.11" x2="366.2" y2="51.11" stroke-width="1"/>
<line x1="45.5" y1="48.12" x2="50.5" y2="48.12" stroke-width="1"/>
<line x1="371.2" y1="48.12" x2="366.2" y2="48.12" stroke-width="1"/>
<line x1="45.5" y1="45.45" x2="55.5" y2="45.45" stroke-width="1"/>
<line x1="371.2" y1="45.45" x2="361.2" y2="45.45" stroke-width="1"/>
<line x1="45.5" y1="27.85" x2="50.5" y2="27.85" stroke-width="1"/>
<line x1="371.2" y1="27.85" x2="366.2" y2="27.85" stroke-width="1"/>
<line x1="45.5" y1="17.56" x2="50.5" y2="17.56" stroke-width="1"/>
<line x1="371.2" y1="17.56" x2="366.2" y2="17.56" stroke-width="1"/>
<line x1="45.5" y1="458.79" x2="53" y2="458.79" stroke-width="1"/>
<line x1="371.2" y1="458.79" x2="363.7" y2="458.79" stroke-width="1"/>
<line x1="45.5" y1="442.75" x2="50.5" y2="442.75" stroke-width="1"/>
<line x1="371.2" y1="442.75" x2="366.2" y2="442.75" stroke-width="1"/>
<line x1="45.5" y1="429.18" x2="50.5" y2="429.18" stroke-width="1"/>
<line x1="371.2" y1="429.18" x2="366.2" y2="429.18" stroke-width="1"/>
<line x1="45.5" y1="417.43" x2="50.5" y2="417.43" stroke-width="1"/>
<line x1="371.2" y1="417.43" x2="366.2" y2="417.43" stroke-width="1"/>
<line x1="45.5" y1="407.07" x2="50.5" y2="407.07" stroke-width="1"/>
<line x1="371.2" y1="407.07" x2="366.2" y2="407.07" stroke-width="1"/>
<line x1="45.5" y1="397.8" x2="53" y2="397.8" stroke-width="1"/>
<line x1="371.2" y1="397.8" x2="363.7" y2="397.8" stroke-width="1"/>
<line x1="45.5" y1="389.41" x2="50.5" y2="389.41" stroke-width="1"/>
<line x1="371.2" y1="389.41" x2="366.2" y2="389.41" stroke-width="1"/>
<line x1="45.5" y1="381.76" x2="50.5" y2="381.76" stroke-width="1"/>
<line x1="371.2" y1="381.76" x2="366.2" y2="381.76" stroke-width="1"/>
<line x1="45.5" y1="374.72" x2="50.5" y2="374.72" stroke-width="1"/>
<line x1="371.2" y1="374.72" x2="366.2" y2="374.72" stroke-width="1"/>
<line x1="45.5" y1="368.19" x2="50.5" y2="368.19" stroke-width="1"/>
<line x1="371.2" y1="368.19" x2="366.2" y2="368.19" stroke-width="1"/>
<line x1="45.5" y1="362.12" x2="50.5" y2="362.12" stroke-width="1"/>
<line x1="371.2" y1="362.12" x2="366.2" y2="362.12" stroke-width="1"/>
<line x1="45.5" y1="356.45" x2="50.5" y2="356.45" stroke-width="1"/>
<line x1="371.2" y1="356.45" x2="366.2" y2="356.45" stroke-width="1"/>
<line x1="45.5" y1="351.11" x2="50.5" y2="351.11" stroke-width="1"/>
<line x1="371.2" y1="351.11" x2="366.2" y2="351.11" stroke-width="1"/>
<line x1="45.5" y1="346.08" x2="50.5" y2="346.08" stroke-width="1"/>
<line x1="371.2" y1="346.08" x2="366.2" y2="346.08" stroke-width="1"/>
<line x1="45.5" y1="341.32" x2="50.5" y2="341.32" stroke-width="1"/>
<line x1="371.2" y1="341.32" x2="366.2" y2="341.32" stroke-width="1"/>
<line x1="45.5" y1="336.81" x2="53" y2="336.81" stroke-width="1"/>
<line x1="371.2" y1="336.81" x2="363.7" y2="336.81" stroke-width="1"/>
<line x1="45.5" y1="332.52" x2="50.5" y2="332.52" stroke-width="1"/>
<line x1="371.2" y1="332.52" x2="366.2" y2="332.52" stroke-width="1"/>
<line x1="45.5" y1="328.43" x2="50.5" y2="328.43" stroke-width="1"/>
<line x1="371.2" y1="328.43" x2="366.2" y2="328.43" stroke-width="1"/>
<line x1="45.5" y1="324.51" x2="50.5" y2="324.51" stroke-width="1"/>
<line x1="371.2" y1="324.51" x2="366.2" y2="324.51" stroke-width="1"/>
<line x1="45.5" y1="320.77" x2="50.5" y2="320.77" stroke-width="1"/>
<line x1="371.2" y1="320.77" x2="366.2" y2="320.77" stroke-width="1"/>
</g>
<text transform="translate(57.9,13.8) scale(1.0214,1)" font-size="12" fill="#000" font-family="Liberation Sans, sans-serif">3000 GeV pp</text>
<text transform="translate(335.3,13.7) scale(0.9900,1)" font-size="12" fill="#000" font-family="Liberation Sans, sans-serif">Z+Jet</text>
<text transform="translate(76.9,41.8) scale(0.9813,1)" font-size="12.4" fill="#000" font-family="Liberation Sans, sans-serif">Transmax region, 80 &lt;</text>
<text transform="translate(200.37,41.8) scale(0.9333,1)" font-size="12.4" fill="#000" font-family="Liberation Sans, sans-serif">p</text>
<text transform="translate(205.2,36.5) scale(0.9000,1)" font-size="8.2" fill="#000" font-family="Liberation Sans, sans-serif">Z</text>
<text transform="translate(205.2,48.3) scale(0.9600,1)" font-size="8.2" fill="#000" font-family="Liberation Sans, sans-serif">T</text>
<text transform="translate(213.2,41.8) scale(0.9143,1)" font-size="12.4" fill="#000" font-family="Liberation Sans, sans-serif">&lt;</text>
<text transform="translate(231.5,41.8) scale(0.9553,1)" font-size="12.4" fill="#000" font-family="Liberation Sans, sans-serif">20 [GeV], high thrust</text>
<text transform="translate(34.4,50) scale(0.9333,1)" font-size="11.2" fill="#000" font-family="Liberation Sans, sans-serif">0</text>
<text transform="translate(26.9,168.3) scale(0.9833,1)" font-size="11.2" fill="#000" font-family="Liberation Sans, sans-serif">0</text>
<text transform="translate(25.2,226.3) scale(0.9667,1)" font-size="11.2" fill="#000" font-family="Liberation Sans, sans-serif">0</text>
<text transform="translate(34.8,220.6) scale(1.0500,1)" font-size="7.2" fill="#000" font-family="Liberation Sans, sans-serif">2</text>
<text transform="translate(24.9,285.1) scale(0.9500,1)" font-size="11.2" fill="#000" font-family="Liberation Sans, sans-serif">0</text>
<text transform="translate(34.9,279) scale(0.9750,1)" font-size="7.2" fill="#000" font-family="Liberation Sans, sans-serif">3</text>
<text transform="translate(32.1,340.9) scale(1.0167,1)" font-size="11.2" fill="#000" font-family="Liberation Sans, sans-serif">2</text>
<text transform="translate(21.9,462.3) scale(1.0933,1)" font-size="11.2" fill="#000" font-family="Liberation Sans, sans-serif">0.5</text>
<text transform="translate(373.9,340.7) scale(1.0667,1)" font-size="11.2" fill="#000" font-family="Liberation Sans, sans-serif">2</text>
<text transform="translate(373.9,462.1) scale(1.0933,1)" font-size="11.2" fill="#000" font-family="Liberation Sans, sans-serif">0.5</text>
<text transform="translate(243.2,488.9) scale(1.0167,1)" font-size="11.2" fill="#000" font-family="Liberation Sans, sans-serif">2</text>
<text transform="translate(368.2,488.5) scale(0.9500,1)" font-size="11.2" fill="#000" font-family="Liberation Sans, sans-serif">3</text>
<text transform="translate(289.06,500.2) scale(1.0447,1)" font-size="11.8" fill="#000" font-family="Liberation Sans, sans-serif">Mean p</text>
<text transform="translate(329.8,507.8) scale(1.0800,1)" font-size="8.8" fill="#000" font-family="Liberation Sans, sans-serif">T</text>
<text transform="translate(334.4,500.6) scale(1.0594,1)" font-size="11.6" fill="#000" font-family="Liberation Sans, sans-serif">/d&#951; d&#981;</text>
<text transform="translate(18.5,426.4) rotate(-90) scale(1.0186,1)" font-size="8.7" fill="#000" font-family="Liberation Sans, sans-serif">Ratio to ATLAS</text>
<text transform="translate(14.7,166.46) rotate(-90) scale(0.9588,1)" font-size="12.3" fill="#000" font-family="Liberation Sans, sans-serif">1/N</text>
<text transform="translate(18.3,149.2) rotate(-90) scale(0.9100,1)" font-size="9.0" fill="#000" font-family="Liberation Sans, sans-serif">ev</text>
<text transform="translate(14.7,137) rotate(-90) scale(0.9800,1)" font-size="12.3" fill="#000" font-family="Liberation Sans, sans-serif">dN</text>
<text transform="translate(18.3,121.7) rotate(-90) scale(0.7600,1)" font-size="9.0" fill="#000" font-family="Liberation Sans, sans-serif">ev</text>
<text transform="translate(14.7,113.5) rotate(-90) scale(0.9833,1)" font-size="12.3" fill="#000" font-family="Liberation Sans, sans-serif">/d mean p</text>
<text transform="translate(21.8,61) rotate(-90) scale(1.0600,1)" font-size="8.2" fill="#000" font-family="Liberation Sans, sans-serif">T</text>
<text transform="translate(14.7,53.81) rotate(-90) scale(1.0100,1)" font-size="12.3" fill="#000" font-family="Liberation Sans, sans-serif">[GeV]</text>
<text transform="translate(9,21.1) rotate(-90) scale(0.8000,1)" font-size="7.8" fill="#000" font-family="Liberation Sans, sans-serif">1</text>
<text transform="translate(380.2,127) rotate(-90) scale(1.0929,1)" font-size="8.6" fill="#767676" font-family="Liberation Sans, sans-serif">Rivet 4.1.0, &#8805; 500k events</text>
<text transform="translate(382,312.6) rotate(-90) scale(1.0896,1)" font-size="8.6" fill="#767676" font-family="Liberation Sans, sans-serif">mcplots.cern.ch [arXiv:2401.10621]</text>
<text transform="translate(163.6,301.4) scale(1.0125,1)" font-size="7.8" fill="#9a9a9a" font-family="Liberation Sans, sans-serif">(ATLAS_2019_I1736531)</text>
<text transform="translate(94.2,227.1) scale(0.9000,1)" font-size="10.5" fill="#000" font-family="Liberation Sans, sans-serif">ATLAS</text>
<text transform="translate(93.3,240) scale(0.8957,1)" font-size="10.5" fill="#000" font-family="Liberation Sans, sans-serif">Herwig 7.2.1 default</text>
<text transform="translate(93.29,253.1) scale(0.9051,1)" font-size="10.5" fill="#000" font-family="Liberation Sans, sans-serif">Pythia 6.427 370</text>
<text transform="translate(93.29,266.1) scale(0.9087,1)" font-size="10.5" fill="#000" font-family="Liberation Sans, sans-serif">Pythia 8.315 default</text>
<text transform="translate(93.31,278.8) scale(0.8936,1)" font-size="10.5" fill="#000" font-family="Liberation Sans, sans-serif">Sherpa 2.2.9 default</text>
<path d="M54.65 13.7L54.65 4.9M51.95 7.26L54.85 5.3" stroke="#000" stroke-width="1.2" fill="none" stroke-linecap="butt"/>
<path d="M227.9 41.6L227.9 32.9M225.3 35.18L228.1 33.3" stroke="#000" stroke-width="1.2" fill="none" stroke-linecap="butt"/>
<path d="M30.4 49.7L30.4 42M28.1 44.04L30.6 42.4" stroke="#000" stroke-width="1.15" fill="none" stroke-linecap="butt"/>
<path d="M38.7 107.6L38.7 100.2M36.4 102.24L38.9 100.6" stroke="#000" stroke-width="1.15" fill="none" stroke-linecap="butt"/>
<path d="M24.1 168L24.1 159.9M21.8 161.94L24.3 160.3" stroke="#000" stroke-width="1.15" fill="none" stroke-linecap="butt"/>
<path d="M39.5 162.5L39.5 157.6M37.8 159.16L39.7 158" stroke="#000" stroke-width="1.05" fill="none" stroke-linecap="butt"/>
<path d="M22.4 226L22.4 218M20.1 220.04L22.6 218.4" stroke="#000" stroke-width="1.15" fill="none" stroke-linecap="butt"/>
<path d="M22.2 284.9L22.2 277.1M19.9 279.14L22.4 277.5" stroke="#000" stroke-width="1.15" fill="none" stroke-linecap="butt"/>
<path d="M36.5 401.9L36.5 393.8M34.2 395.84L36.7 394.2" stroke="#000" stroke-width="1.15" fill="none" stroke-linecap="butt"/>
<path d="M377.9 402.6L377.9 394.6M375.6 396.64L378.1 395" stroke="#000" stroke-width="1.15" fill="none" stroke-linecap="butt"/>
<path d="M121.4 488.6L121.4 480.6M119.1 482.64L121.6 481" stroke="#000" stroke-width="1.15" fill="none" stroke-linecap="butt"/>
<rect x="33.3" y="160.9" width="3.8" height="1.2" fill="#000"/>
<rect x="31.4" y="219.2" width="3.4" height="1.2" fill="#000"/>
<rect x="31.4" y="276.5" width="3.5" height="1.2" fill="#000"/>
<rect x="5.9" y="20.6" width="1.1" height="2.6" fill="#000"/>
<rect x="73.6" y="221.3" width="5.4" height="5.4" fill="#000"/>
<line x1="64.2" y1="237.1" x2="88.9" y2="237.1" stroke="#34a02c" stroke-width="1.1" stroke-dasharray="3,2.5"/>
<rect x="73.8" y="234.6" width="5" height="5" fill="none" stroke="#34a02c" stroke-width="1.1"/>
<line x1="64.2" y1="250" x2="88.9" y2="250" stroke="#a50c26" stroke-width="1.1"/>
<polygon points="76.3,246.4 73.4,252.4 79.2,252.4" fill="none" stroke="#a50c26" stroke-width="1.1" stroke-linejoin="miter"/>
<line x1="64.2" y1="263.1" x2="88.9" y2="263.1" stroke="#0000ff" stroke-width="1.2"/>
<polygon points="76.3,260.1 73.6,265.1 79,265.1" fill="#0000ff"/>
<line x1="64.2" y1="275.7" x2="88.9" y2="275.7" stroke="#ff0000" stroke-width="1.1" stroke-dasharray="1,1" stroke-opacity="0.8"/>
<polygon points="76.3,272.9 78.4,276 76.3,279.1 74.2,276" fill="#ff0000"/>
</svg>
</body></html>
